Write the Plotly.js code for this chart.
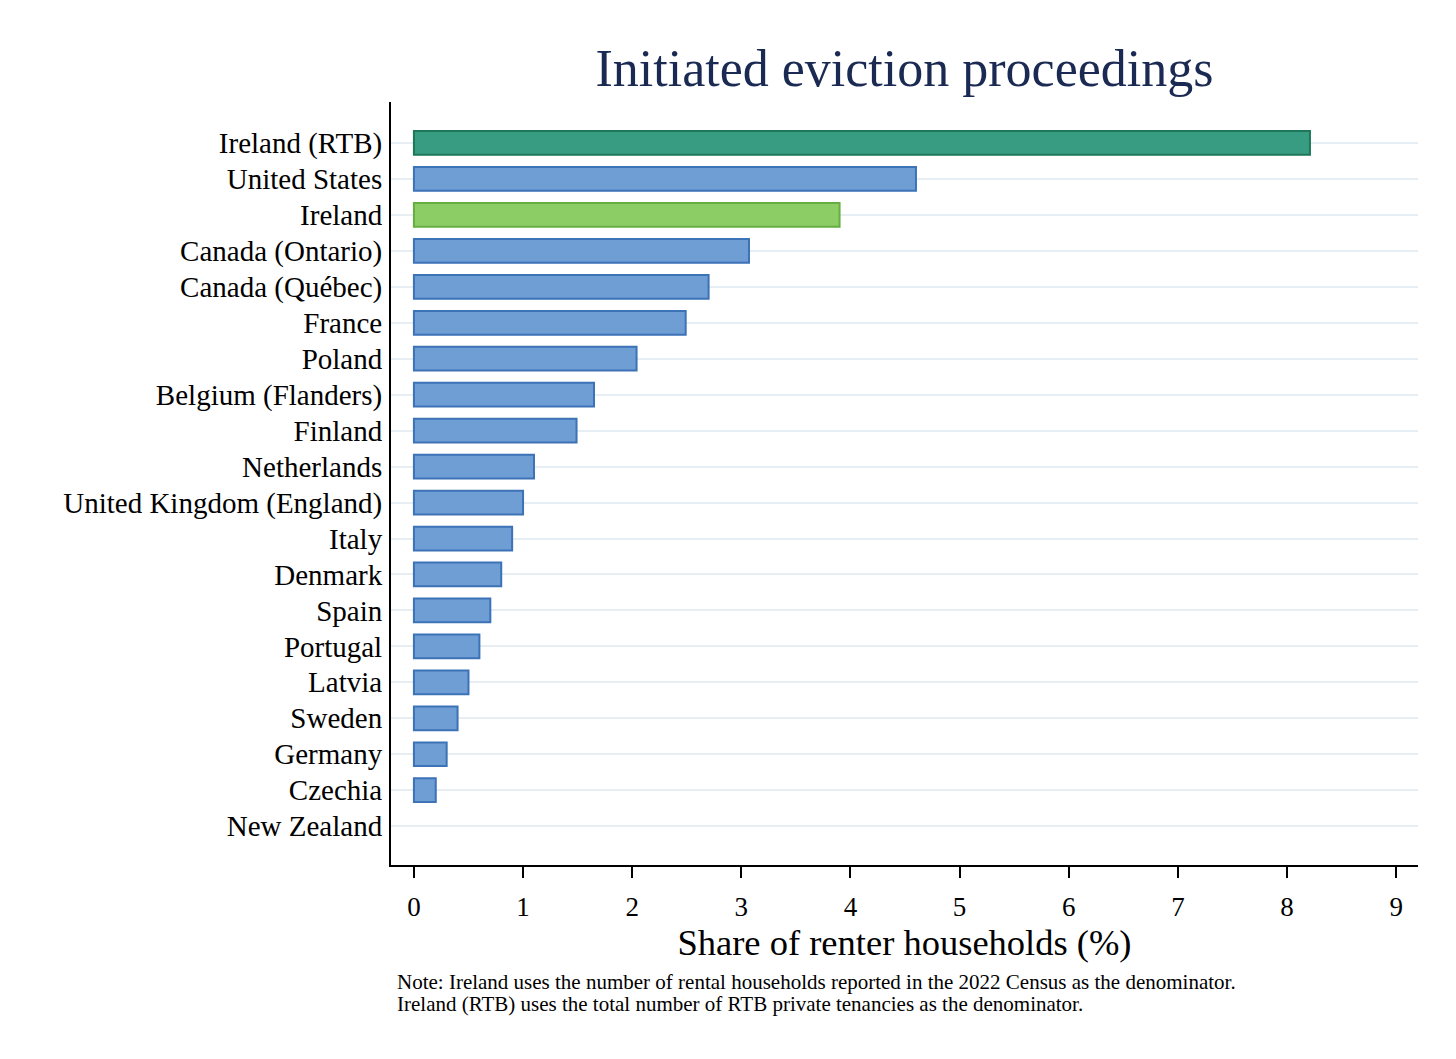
<!DOCTYPE html>
<html>
<head>
<meta charset="utf-8">
<script src="https://cdn.plot.ly/plotly-3.0.1.min.js"></script>
<style>
  html, body { margin: 0; padding: 0; background: #fff; }
  #chart { width: 1456px; height: 1059px; }
</style>
</head>
<body>
<div id="chart"></div>
<script>
// countries, top to bottom
const countries = [
  'Ireland (RTB)', 'United States', 'Ireland', 'Canada (Ontario)', 'Canada (Québec)',
  'France', 'Poland', 'Belgium (Flanders)', 'Finland', 'Netherlands',
  'United Kingdom (England)', 'Italy', 'Denmark', 'Spain', 'Portugal',
  'Latvia', 'Sweden', 'Germany', 'Czechia', 'New Zealand'
];
// share of renter households (%)
const shares = [
  8.21, 4.6, 3.9, 3.07, 2.7,
  2.49, 2.04, 1.65, 1.49, 1.1,
  1.0, 0.9, 0.8, 0.7, 0.6,
  0.5, 0.4, 0.3, 0.2, 0
];
const xTicks = [0, 1, 2, 3, 4, 5, 6, 7, 8, 9];
const noteLines = [
  'Note: Ireland uses the number of rental households reported in the 2022 Census as the denominator.',
  'Ireland (RTB) uses the total number of RTB private tenancies as the denominator.'
];

const serif = 'Liberation Serif, Times New Roman, serif';

function fillFor(c) {
  if (c == 'Ireland (RTB)') return '#389c82';
  if (c == 'Ireland') return '#8ccd66';
  return '#6e9ed4';
}
function edgeFor(c) {
  if (c == 'Ireland (RTB)') return '#1d7758';
  if (c == 'Ireland') return '#66ae42';
  return '#3c72b6';
}

const trace = {
  type: 'bar',
  orientation: 'h',
  y: countries,
  x: shares,
  width: 0.66,
  marker: {
    color: countries.map(fillFor),
    line: { color: countries.map(edgeFor), width: shares.map(v => v > 0 ? 2 : 0) }
  },
  hoverinfo: 'x+y'
};

const layout = {
  width: 1456,
  height: 1059,
  margin: { l: 391, r: 38, t: 102, b: 194 },
  paper_bgcolor: '#ffffff',
  plot_bgcolor: '#ffffff',
  showlegend: false,
  font: { family: serif, color: '#000' },
  title: {
    text: 'Initiated eviction proceedings',
    font: { family: serif, size: 52, color: '#1b2a52' },
    x: 0.5, xref: 'paper', xanchor: 'center',
    y: 1 - 68 / 1059, yref: 'container', yanchor: 'middle'
  },
  xaxis: {
    range: [-0.21, 9.2],
    tickvals: xTicks,
    ticktext: xTicks.map(String),
    showgrid: false,
    zeroline: false,
    showline: true,
    linecolor: '#000',
    linewidth: 2,
    ticks: 'outside',
    ticklen: 11,
    tickwidth: 2,
    tickcolor: '#000',
    ticklabelstandoff: 6,
    tickfont: { family: serif, size: 27 },
    title: {
      text: 'Share of renter households (%)',
      font: { family: serif, size: 36.5 },
      standoff: 3
    },
    fixedrange: true
  },
  yaxis: {
    type: 'category',
    autorange: false,
    range: [20.08, -1.14],
    showgrid: true,
    gridcolor: '#e6eef3',
    gridwidth: 2,
    showline: true,
    linecolor: '#000',
    linewidth: 2,
    zeroline: false,
    ticks: '',
    ticklabelstandoff: 1,
    tickfont: { family: serif, size: 29 },
    fixedrange: true
  },
  annotations: noteLines.map((t, i) => ({
    text: t,
    xref: 'paper', yref: 'paper',
    x: 0.004, y: 0,
    xanchor: 'left', yanchor: 'middle',
    yshift: -117 - i * 22,
    showarrow: false,
    align: 'left',
    font: { family: serif, size: 21, color: '#000' }
  }))
};

Plotly.newPlot('chart', [trace], layout, { displayModeBar: false, staticPlot: true });
</script>
</body>
</html>
